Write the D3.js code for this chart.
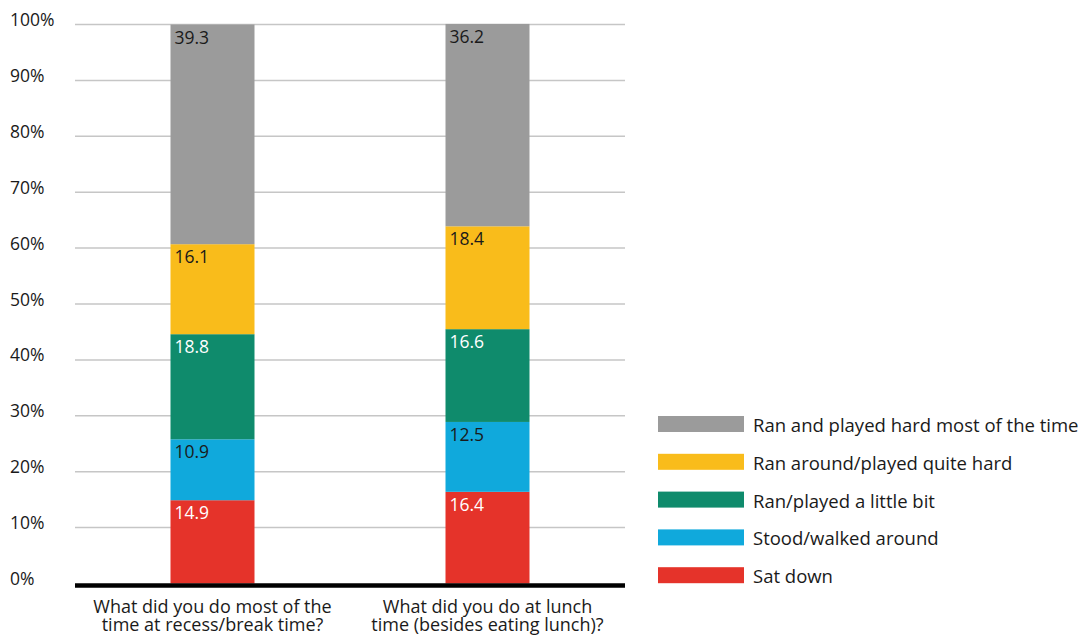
<!DOCTYPE html>
<html><head><meta charset="utf-8">
<script src="https://cdn.jsdelivr.net/npm/d3@7"></script>
<style>body{margin:0;background:#fff;} text{font-family:"Open Sans",sans-serif;}</style>
</head><body><svg id="c" width="1085" height="639"></svg>
<script>
const categories = [["What did you do most of the","time at recess/break time?"],["What did you do at lunch","time (besides eating lunch)?"]];
const seriesNames = ["Sat down","Stood/walked around","Ran/played a little bit","Ran around/played quite hard","Ran and played hard most of the time"];
const satDown = [14.9, 16.4];
const stood = [10.9, 12.5];
const little = [18.8, 16.6];
const quiteHard = [16.1, 18.4];
const hardMost = [39.3, 36.2];
const colors = ["#e5332a","#10a9dc","#0f8b6c","#f9bc1b","#9b9b9b"];
const labelColors = ["#ffffff","#1a1a1a","#ffffff","#1a1a1a","#1a1a1a"];
const yTicks = [0,10,20,30,40,50,60,70,80,90,100];

const series = [satDown, stood, little, quiteHard, hardMost];
const data = categories.map((c,i)=>{const o={i}; seriesNames.forEach((s,k)=>o[s]=series[k][i]); return o;});
const stacked = d3.stack().keys(seriesNames)(data);

const svg = d3.select("#c");
const x = d3.scaleBand().domain([0,1]).range([75,625]).padding(0);
const y = d3.scaleLinear().domain([0,100]).range([583.5,24.5]);
const bw = 84;

svg.append("g").selectAll("line").data(yTicks.slice(1)).join("line")
  .attr("x1",75).attr("x2",625).attr("y1",d=>y(d)).attr("y2",d=>y(d))
  .attr("stroke","#c6c6c6").attr("stroke-width",1.5);
svg.append("g").selectAll("text").data(yTicks).join("text")
  .attr("x",10).attr("y",d=>y(d)+1.5).attr("font-size",17.5).attr("fill","#1a1a1a")
  .text(d=>d+"%");

stacked.forEach((s,k)=>{
  const g = svg.append("g");
  g.selectAll("rect").data(s).join("rect")
    .attr("x",(d,i)=>x(i)+x.bandwidth()/2-bw/2).attr("width",bw)
    .attr("y",d=>y(d[1])).attr("height",d=>y(d[0])-y(d[1]))
    .attr("fill",colors[k]);
  g.selectAll("text").data(s).join("text")
    .attr("x",(d,i)=>x(i)+x.bandwidth()/2-bw/2+4).attr("y",d=>y(d[1])+19)
    .attr("font-size",17.5).attr("fill",labelColors[k])
    .text(d=>d3.format(".1f")(d[1]-d[0]));
});

svg.append("line").attr("x1",75).attr("x2",625).attr("y1",585.5).attr("y2",585.5)
  .attr("stroke","#000").attr("stroke-width",4.5);

categories.forEach((lines,i)=>{
  lines.forEach((l,j)=>svg.append("text").attr("text-anchor","middle").attr("font-size",18).attr("fill","#1a1a1a")
    .attr("x",x(i)+x.bandwidth()/2).attr("y",612.5+j*18.5).text(l));
});

const legendOrder = [4,3,2,1,0];
const lg = svg.append("g");
legendOrder.forEach((k,r)=>{
  const yy = 416 + r*37.8;
  lg.append("rect").attr("x",658).attr("y",yy).attr("width",86).attr("height",16).attr("fill",colors[k]);
  lg.append("text").attr("x",753).attr("y",yy+16).attr("font-size",18.5).attr("fill","#1a1a1a").text(seriesNames[k]);
});
</script></body></html>
